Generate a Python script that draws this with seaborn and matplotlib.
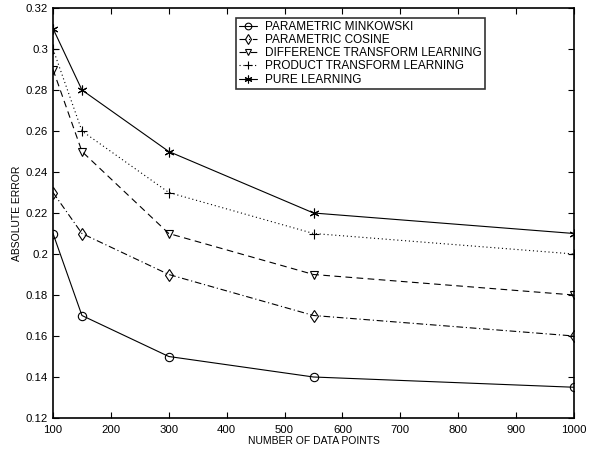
import numpy as np
import pandas as pd
import matplotlib
matplotlib.use('Agg')
import matplotlib.pyplot as plt
import seaborn as sns

n_points = [100, 150, 300, 550, 1000]
minkowski = [0.21, 0.17, 0.15, 0.14, 0.135]
cosine = [0.23, 0.21, 0.19, 0.17, 0.16]
difference = [0.29, 0.25, 0.21, 0.19, 0.18]
product = [0.30, 0.26, 0.23, 0.21, 0.20]
pure = [0.31, 0.28, 0.25, 0.22, 0.21]

labels = ['PARAMETRIC MINKOWSKI', 'PARAMETRIC COSINE', 'DIFFERENCE TRANSFORM LEARNING',
          'PRODUCT TRANSFORM LEARNING', 'PURE LEARNING']
series = [minkowski, cosine, difference, product, pure]

df = pd.DataFrame({
    'x': np.tile(n_points, len(labels)),
    'y': np.concatenate(series),
    'method': np.repeat(labels, len(n_points)),
})

sns.set_style('ticks')
plt.rcParams['font.family'] = ['Liberation Sans', 'DejaVu Sans']
plt.rcParams['font.size'] = 8
plt.rcParams['text.color'] = 'black'
plt.rcParams['axes.labelcolor'] = 'black'
plt.rcParams['xtick.color'] = 'black'
plt.rcParams['ytick.color'] = 'black'

# asterisk marker like matlab '*'
asterisk = (6, 2, 0)
styles = {
    labels[0]: dict(marker='o', linestyle='-', markersize=6),
    labels[1]: dict(marker='d', linestyle=(0, (6, 2.5, 1, 2.5)), markersize=6),
    labels[2]: dict(marker='v', linestyle=(0, (6, 4)), markersize=6),
    labels[3]: dict(marker='+', linestyle=(0, (1, 2.5)), markersize=7),
    labels[4]: dict(marker=asterisk, linestyle='-', markersize=7),
}

fig = plt.figure(figsize=(5.91, 4.49), dpi=100)
ax = fig.add_axes([53 / 591, 1 - 418 / 449, 521 / 591, 410 / 449])

for lab in labels:
    st = styles[lab]
    sns.lineplot(data=df[df['method'] == lab], x='x', y='y', ax=ax, color='black',
                 linewidth=0.8, marker=st['marker'], linestyle=st['linestyle'],
                 markersize=st['markersize'], markerfacecolor='none',
                 markeredgecolor='black', markeredgewidth=0.8, label=lab)

ax.set_xlim(100, 1000)
ax.set_ylim(0.12, 0.32)
ax.set_xticks(np.arange(100, 1001, 100))
ax.set_yticks(np.round(np.arange(0.12, 0.321, 0.02), 2))
ax.set_yticklabels(['0.12', '0.14', '0.16', '0.18', '0.2', '0.22', '0.24', '0.26', '0.28', '0.3', '0.32'])
ax.tick_params(direction='in', top=True, right=True, length=4, width=0.8, labelsize=8.2)
ax.tick_params(axis='x', pad=5)
ax.tick_params(axis='y', pad=3.5)
for sp in ax.spines.values():
    sp.set_visible(True)
    sp.set_linewidth(1.2)
    sp.set_color('black')
ax.set_xlabel('NUMBER OF DATA POINTS', fontsize=7.5, labelpad=1)
ax.set_ylabel('ABSOLUTE ERROR', fontsize=7.5, labelpad=3)

leg = ax.legend(loc='upper left', bbox_to_anchor=(236 / 591, 1 - 18 / 449),
                bbox_transform=fig.transFigure, fontsize=8.5, frameon=True, fancybox=False,
                edgecolor='black', handlelength=1.5, handletextpad=0.7, borderpad=0.25,
                labelspacing=0.1, borderaxespad=0, markerscale=0.8)
leg.get_frame().set_linewidth(1.2)

fig.savefig('out.png', dpi=100)
